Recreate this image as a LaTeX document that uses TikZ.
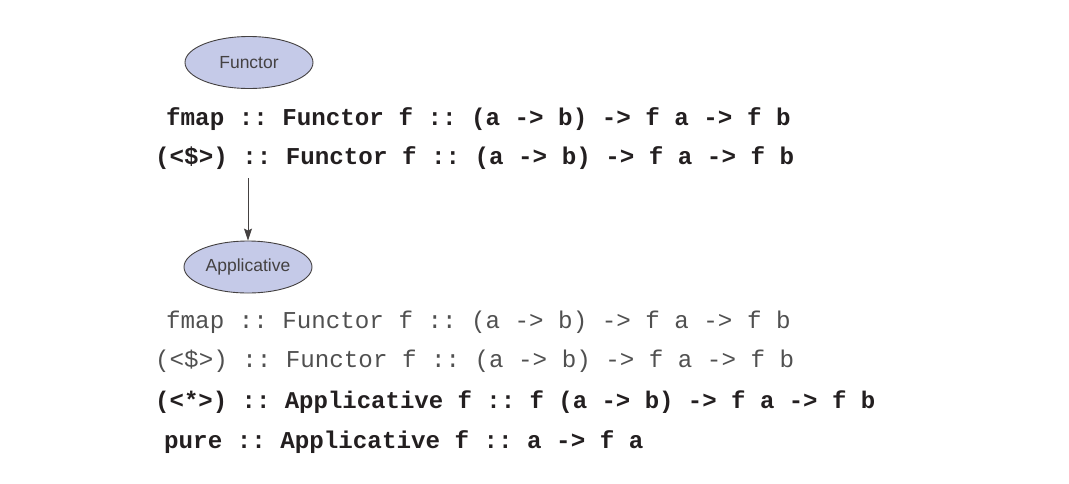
\documentclass[tikz,border=0pt]{standalone}
\usepackage{fontspec}
\setmainfont{Liberation Sans}
\newfontfamily\codefont{Liberation Mono}
\usetikzlibrary{shapes.geometric,arrows.meta}
\definecolor{ellfill}{RGB}{197,202,232}
\definecolor{ink}{RGB}{35,31,32}
\definecolor{lightink}{RGB}{80,80,80}
\frenchspacing
\tikzset{
  cls/.style={ellipse, draw=ink!85, line width=0.9pt, fill=ellfill, minimum width=128pt, minimum height=52pt, inner sep=0pt, font=\fontsize{17.5}{20}\selectfont, text=ink!85},
  boldcode/.style={anchor=base west, inner sep=0pt, text=ink, font=\frenchspacing\codefont\bfseries\fontsize{24.2}{29}\selectfont},
  lightcode/.style={anchor=base west, inner sep=0pt, text=lightink, font=\frenchspacing\codefont\fontsize{24.2}{29}\selectfont},
  conn/.style={draw=ink!85, line width=0.9pt, -{Stealth[length=12pt,width=8pt,inset=2pt]}}
}
\begin{document}
\begin{tikzpicture}[x=1pt,y=-1pt]
\useasboundingbox (0,0) rectangle (1069,483);
\node[cls] (functor) at (249,62.5) {Functor};
\node[boldcode] (l1) at (166,125) {fmap :: Functor f :: (a -> b) -> f a -> f b};
\node[boldcode] (l2) at (155,164) {(<\$>) :: Functor f :: (a -> b) -> f a -> f b};
\node[cls] (app) at (248,267) {Applicative};
\coordinate (astart) at (248,178);
\draw[conn] (astart) -- (app.north);
\node[lightcode] (m1) at (166,328) {fmap :: Functor f :: (a -> b) -> f a -> f b};
\node[lightcode] (m2) at (155,367) {(<\$>) :: Functor f :: (a -> b) -> f a -> f b};
\node[boldcode, font=\frenchspacing\codefont\bfseries\fontsize{24.0}{29}\selectfont] (m3) at (155,408) {(<*>) :: Applicative f :: f (a -> b) -> f a -> f b};
\node[boldcode] (m4) at (164,448) {pure :: Applicative f :: a -> f a};
\end{tikzpicture}
\end{document}
